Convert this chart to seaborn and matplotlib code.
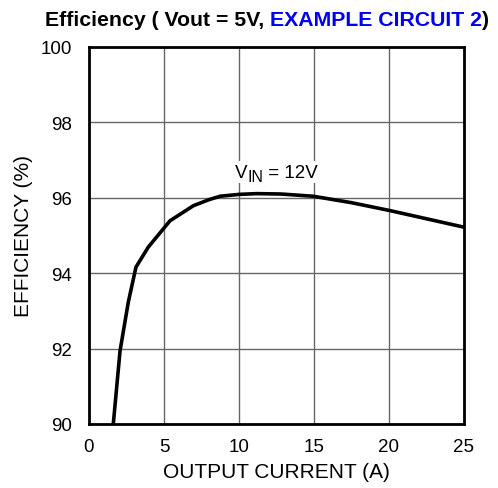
import numpy as np
import pandas as pd
import seaborn as sns
import matplotlib.pyplot as plt

# curve (output current in A, efficiency in %)
current = [1.62, 2.07, 2.62, 3.13, 3.95, 5.4, 6.96, 8.0, 8.73, 10.0, 11.18, 12.8, 14.96, 17.5, 20.07, 25.0]
efficiency = [90.0, 91.94, 93.23, 94.16, 94.69, 95.39, 95.79, 95.95, 96.04, 96.09, 96.11, 96.1, 96.04, 95.87, 95.66, 95.22]
x_ticks = [0, 5, 10, 15, 20, 25]
y_ticks = [90, 92, 94, 96, 98, 100]

df = pd.DataFrame({"current": current, "efficiency": efficiency})

sns.set_theme(style="white")
plt.rcParams['font.family'] = ['Liberation Sans', 'DejaVu Sans']

W, H = 498, 489
fig = plt.figure(figsize=(W / 100, H / 100), dpi=100)
ax = fig.add_axes([0.1787, 0.1309, 0.753, 0.771])

sns.lineplot(data=df, x="current", y="efficiency", ax=ax, color="black",
             linewidth=2.6, estimator=None, sort=False)

ax.set_xlim(0, 25)
ax.set_ylim(90, 100)
ax.set_xticks(x_ticks)
ax.set_yticks(y_ticks)
ax.grid(True, color="#666666", linewidth=1.0)
for s in ax.spines.values():
    s.set_color("black")
    s.set_linewidth(2.0)
ax.tick_params(axis="both", labelsize=13.5, colors="black", length=0)
ax.tick_params(axis="x", pad=10)
ax.tick_params(axis="y", pad=12)
ax.set_xlabel("OUTPUT CURRENT (A)", fontsize=15, color="black", labelpad=5)
ax.set_ylabel("EFFICIENCY (%)", fontsize=15, color="black", labelpad=6)

fig.canvas.draw()
renderer = fig.canvas.get_renderer()


def run_text(x_px, y_px, parts, **kw):
    # place text pieces one after another, in pixel coordinates
    for txt, col, size, dy in parts:
        t = fig.text(x_px / W, 1 - (y_px + dy) / H, txt, fontsize=size, color=col,
                     ha="left", va="center", **kw)
        x_px += t.get_window_extent(renderer=renderer).width
    return x_px


# V_IN label with white background
bg = plt.Rectangle((233 / W, 1 - 184 / H), 88 / W, 22 / H, transform=fig.transFigure,
                   facecolor="white", edgecolor="none", zorder=3)
fig.patches.append(bg)
run_text(235, 173, [("V", "black", 13.5, 0), ("IN", "black", 11.5, 5),
                    (" = 12V", "black", 13.5, 0)], zorder=4)

# two-colour title
run_text(45, 20, [("Efficiency ( Vout = 5V, ", "black", 15.3, 0),
                  ("EXAMPLE CIRCUIT 2", "#0000ee", 15.3, 0),
                  (")", "black", 15.3, 0)], fontweight="bold")

fig.savefig("out.png", dpi=100)
